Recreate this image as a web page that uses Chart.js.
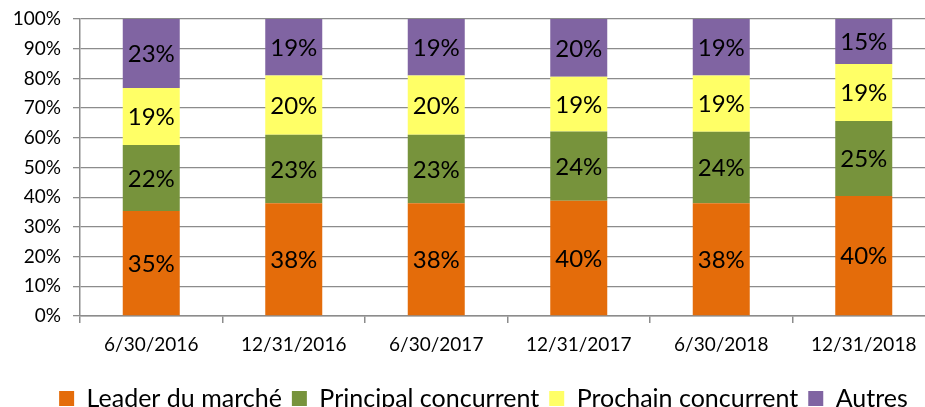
<!DOCTYPE html>
<html>
<head>
<meta charset="utf-8">
<script src="https://cdn.jsdelivr.net/npm/chart.js@4.4.1/dist/chart.umd.min.js"></script>
<style>
  html, body { margin: 0; padding: 0; background: #fff; overflow: hidden; }
  #wrap { width: 935px; height: 407px; }
</style>
</head>
<body>
<div id="wrap"><canvas id="shareChart" width="935" height="407"></canvas></div>
<script>
// market share per date (labels shown as typed, bars normalised to 100%)
const dates = ["6/30/2016", "12/31/2016", "6/30/2017", "12/31/2017", "6/30/2018", "12/31/2018"];
const leader = [35, 38, 38, 40, 38, 40];
const principal = [22, 23, 23, 24, 24, 25];
const prochain = [19, 20, 20, 19, 19, 19];
const autres = [23, 19, 19, 20, 19, 15];
const seriesNames = ["Leader du marché", "Principal concurrent", "Prochain concurrent", "Autres"];
const yTicks = [0, 10, 20, 30, 40, 50, 60, 70, 80, 90, 100];

const shares = [leader, principal, prochain, autres];
const colors = ["#e46c0a", "#77933c", "#ffff66", "#8064a2"];
const FONT = "Lato, 'Open Sans', sans-serif";

let totals = dates.map((d, j) => shares.reduce((s, arr) => s + arr[j], 0));

let shareData = {
    labels: dates,
    datasets: shares.map((arr, i) => ({
        label: seriesNames[i],
        data: arr.map((v, j) => v / totals[j] * 100),
        backgroundColor: colors[i],
        borderWidth: 0,
        categoryPercentage: 1,
        barPercentage: 0.4,
    })),
};

// values written in the middle of each segment
const barLabels = {
    id: "barLabels",
    afterDatasetsDraw(chart) {
        let ctx = chart.ctx;
        ctx.save();
        ctx.font = "24px " + FONT;
        ctx.fillStyle = "#000";
        ctx.textAlign = "center";
        ctx.textBaseline = "middle";
        chart.data.datasets.forEach((ds, i) => {
            chart.getDatasetMeta(i).data.forEach((bar, j) => {
                let p = bar.getCenterPoint();
                ctx.fillText(shares[i][j] + "%", p.x, p.y + 1);
            });
        });
        ctx.restore();
    },
};

// nudge the legend a bit to the right (it is centred under the plot in the original)
const legendShift = {
    id: "legendShift",
    afterLayout(chart) {
        if (chart.legend) {
            chart.legend.left += 16;
            chart.legend.right += 16;
        }
    },
};

let shareOptions = {
    responsive: false,
    animation: false,
    layout: { padding: { top: 19, left: 0, right: 0, bottom: -14 } },
    plugins: {
        legend: {
            position: "bottom",
            labels: {
                color: "#000",
                font: { family: FONT, size: 25 },
                boxWidth: 15,
                boxHeight: 15,
                padding: 10,
            },
        },
        tooltip: { enabled: false },
    },
    scales: {
        x: {
            stacked: true,
            offset: true,
            grid: { drawOnChartArea: false, drawTicks: true, tickLength: 7, color: "#8c8c8c", lineWidth: 1.5 },
            border: { color: "#8c8c8c", width: 1.5 },
            ticks: { color: "#000", font: { family: FONT, size: 19 }, padding: 10, maxRotation: 0 },
            afterFit(scale) { scale.height = 60; },
        },
        y: {
            stacked: true,
            min: 0,
            max: 100,
            afterBuildTicks(scale) { scale.ticks = yTicks.map(v => ({ value: v })); },
            grid: { color: "#8c8c8c", lineWidth: 1.3, tickLength: 7 },
            border: { color: "#8c8c8c", width: 1.5 },
            ticks: {
                color: "#000",
                font: { family: FONT, size: 19 },
                padding: 12,
                callback: v => v + "%",
            },
            afterFit(scale) {
                scale.width = 80;
                scale.paddingTop = 0;
                scale.paddingBottom = 0;
            },
        },
    },
};

new Chart(document.getElementById("shareChart").getContext("2d"), {
    type: "bar",
    data: shareData,
    options: shareOptions,
    plugins: [barLabels, legendShift],
});
</script>
</body>
</html>
